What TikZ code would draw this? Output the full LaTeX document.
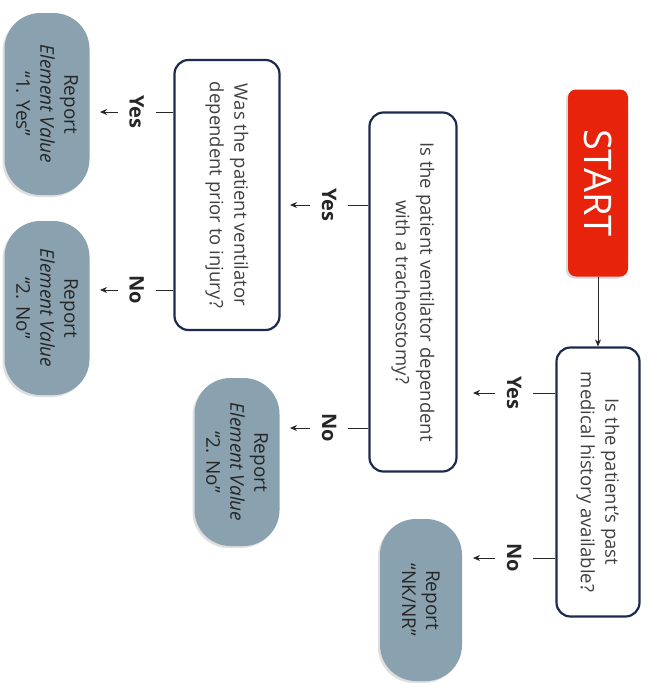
\documentclass[tikz,border=0pt]{standalone}
\usepackage{fontspec}
\setmainfont{Open Sans}
\usetikzlibrary{arrows.meta,shadows}
\definecolor{fstart}{HTML}{E8230C}
\definecolor{fnavy}{HTML}{1C2B4D}
\definecolor{freport}{HTML}{8AA2AF}
\definecolor{ftext}{HTML}{404040}
\tikzset{
  startbox/.style={fill=fstart, text=white, rounded corners=8pt, rotate=-90,
                   font=\fontsize{38}{40}\selectfont, inner sep=0pt,
                   drop shadow={shadow xshift=-2pt, shadow yshift=-2pt, opacity=0.3}},
  qbox/.style={draw=fnavy, line width=2.2pt, fill=white, rounded corners=14pt,
               rotate=-90, align=center, text=ftext, inner sep=0pt,
               font=\fontsize{18.5}{24.5}\selectfont},
  rbox/.style={fill=freport, rounded corners=36pt, rotate=-90, align=center,
               text=black!85, inner sep=0pt, font=\fontsize{19}{24}\selectfont,
               drop shadow={shadow xshift=-2pt, shadow yshift=-2pt, opacity=0.25}},
  lbl/.style={fill=white, rotate=-90, inner sep=0pt, minimum height=38pt,
              font=\fontsize{20}{22}\selectfont\bfseries},
  arr/.style={-{Stealth[length=7pt, width=6pt]}, line width=0.8pt, black!85},
}
\begin{document}
\begin{tikzpicture}[x=1pt, y=-1pt]
  \useasboundingbox (0,0) rectangle (649,683);

  % start and questions
  \node[startbox, minimum width=187pt, minimum height=60pt] (start) at (598,183) {START};
  \node[qbox, minimum width=269pt, minimum height=83pt] (q1) at (598,482)
    {Is the patient's past\\medical history available?};
  \node[qbox, minimum width=359pt, minimum height=87pt] (q2) at (413,292)
    {Is the patient ventilator dependent\\with a tracheostomy?};
  \node[qbox, minimum width=270pt, minimum height=105pt] (q3) at (227,195)
    {Was the patient ventilator\\dependent prior to injury?};

  % reports
  \node[rbox, minimum width=182pt, minimum height=85pt] (r1) at (47,104)
    {Report\\\textit{Element Value}\\``1. Yes''};
  \node[rbox, minimum width=174pt, minimum height=85pt] (r2) at (47,308)
    {Report\\\textit{Element Value}\\``2. No''};
  \node[rbox, minimum width=168pt, minimum height=85pt] (r3) at (237,462)
    {Report\\\textit{Element Value}\\``2. No''};
  \node[rbox, minimum width=162pt, minimum height=82pt] (r4) at (421,600)
    {Report\\``NK/NR''};

  % branch ends
  \coordinate (q1yes) at (473,393);
  \coordinate (q1no) at (473,558);
  \coordinate (q2yes) at (290,205);
  \coordinate (q2no) at (290,428);
  \coordinate (q3yes) at (100,112);
  \coordinate (q3no) at (100,290);

  \draw[arr] (start) -- (q1);
  \draw[arr] (q1.south |- q1yes) -- node[lbl] {Yes} (q1yes);
  \draw[arr] (q1.south |- q1no) -- node[lbl] {No} (q1no);
  \draw[arr] (q2.south |- q2yes) -- node[lbl] {Yes} (q2yes);
  \draw[arr] (q2.south |- q2no) -- node[lbl] {No} (q2no);
  \draw[arr] (q3.south |- q3yes) -- node[lbl] {Yes} (q3yes);
  \draw[arr] (q3.south |- q3no) -- node[lbl] {No} (q3no);
\end{tikzpicture}
\end{document}
